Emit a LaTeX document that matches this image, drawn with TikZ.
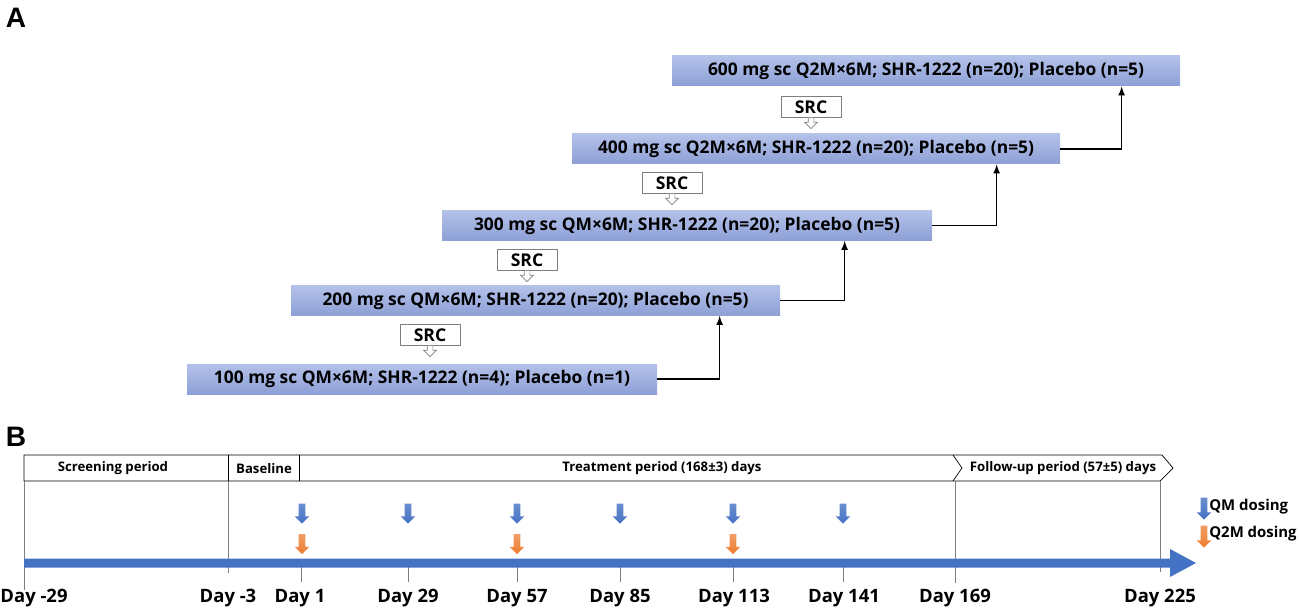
\documentclass[tikz,border=0pt]{standalone}
\usepackage{fontspec}
\setmainfont{Open Sans}
\newfontfamily\letterfont{Liberation Sans}
\usepackage{tikz}
\usetikzlibrary{positioning}
\usetikzlibrary{arrows,shapes}
\usetikzlibrary{shadings,shapes.arrows}
\usetikzlibrary{calc}
\definecolor{bartop}{HTML}{B4C2E9}
\definecolor{barbottom}{HTML}{8D9FD6}
\definecolor{axisblue}{HTML}{4472C4}
\definecolor{doseorange}{HTML}{ED7D31}
\definecolor{linegray}{HTML}{7F7F7F}
\def\u{0.02cm}
\tikzstyle{cohort}=[rectangle,top color=bartop,bottom color=barbottom,minimum height=30*\u,inner sep=0pt,font=\bfseries\fontsize{9.9}{11}\selectfont]
\tikzstyle{src}=[rectangle,draw=linegray,fill=white,minimum width=60*\u,minimum height=21*\u,inner sep=0pt,font=\bfseries\fontsize{10}{11}\selectfont]
\tikzstyle{srcptr}=[single arrow,draw=linegray,fill=white,rotate=-90,anchor=west,minimum height=11*\u,inner sep=2.5*\u,single arrow head extend=3.5*\u]
\tikzstyle{qm}=[single arrow,rotate=-90,draw=none,top color=axisblue!80,bottom color=axisblue,minimum height=20*\u,inner sep=3*\u,single arrow head extend=4*\u]
\tikzstyle{qtwom}=[single arrow,rotate=-90,draw=none,top color=doseorange!75,bottom color=doseorange,minimum height=20*\u,inner sep=3*\u,single arrow head extend=4*\u]
\tikzstyle{edge} = [draw,thick,-latex]
\tikzstyle{tick} = [draw=linegray,thin]
\tikzstyle{daylabel} = [font=\bfseries\fontsize{10.5}{12}\selectfont]
\tikzstyle{legend} = [font=\bfseries\fontsize{8.5}{10}\selectfont]
\tikzstyle{period} = [font=\bfseries\fontsize{7.5}{9}\selectfont]

\begin{document}
\begin{tikzpicture}[x=\u, y=-\u]
  \useasboundingbox (0,0) rectangle (1299,608);

  % panel letters
  \node[font=\letterfont\bfseries\fontsize{16}{18}\selectfont] (pA) at (16,18) {A};
  \node[font=\letterfont\bfseries\fontsize{16}{18}\selectfont] (pB) at (16,437) {B};

  % dose escalation cohorts
  \foreach \x/\y/\w/\name/\label in {422/379/470/b1/{100 mg sc QM×6M; SHR-1222 (n=4); Placebo (n=1)},
      535.5/300.5/489/b2/{200 mg sc QM×6M; SHR-1222 (n=20); Placebo (n=5)},
      687/225.5/490/b3/{300 mg sc QM×6M; SHR-1222 (n=20); Placebo (n=5)},
      816/149/488/b4/{400 mg sc Q2M×6M; SHR-1222 (n=20); Placebo (n=5)},
      926/71/508/b5/{600 mg sc Q2M×6M; SHR-1222 (n=20); Placebo (n=5)}}
         \node[cohort, minimum width=\w*\u] (\name) at (\x,\y) {\label};

  \foreach \source/ \dest /\off in {b1/b2/429, b2/b3/403, b3/b4/425, b4/b5/450}
         \path[edge] (\source.east) -| ($(\dest.south west)+(\off,0)$);

  % safety review
  \foreach \x/\y/\name in {430/335/s1, 527/260/s2, 672/183/s3, 811/107/s4}
     {
          \node[src] (\name) at (\x,\y) {SRC};
          \node[srcptr] (\name p) at ($(\name.south)+(0,-0.6)$) {};
     }

  % panel B: periods
  \draw (24,455) -- (1162,455) -- (1173,468) -- (1160,481) -- (24,481) -- cycle;
  \draw (228,455) -- (228,481);
  \draw (299,455) -- (299,481);
  \draw (953,455) -- (962,468) -- (953,481);
  \node[period] (scr) at (113,468) {Screening period};
  \node[period] (base) at (264,469) {Baseline};
  \node[period] (treat) at (662,468) {Treatment period (168±3) days};
  \node[period] (fup) at (1063,468) {Follow-up period (57±5) days};

  % time axis
  \foreach \x/\y in {24/590, 228/573, 955/583, 1160/572}
         \draw[tick] (\x,481) -- (\x,\y);
  \foreach \x in {301, 408, 517, 620, 733, 843}
         \draw[tick] (\x,566) -- (\x,582);
  \fill[axisblue] (24,558.5) -- (1170,558.5) -- (1170,549) -- (1196,563) -- (1170,577) -- (1170,567.5) -- (24,567.5) -- cycle;

  \foreach \x/\name/\label in {34/dm29/Day -29, 228/dm3/Day -3, 300/d1/Day 1, 408/d29/Day 29, 517/d57/Day 57,
      620/d85/Day 85, 734/d113/Day 113, 844/d141/Day 141, 955/d169/Day 169, 1160/d225/Day 225}
          \node[daylabel] (\name) at (\x,598) {\label};

  % dosing
  \foreach \x/\name in {302/q1, 408/q2, 517/q3, 620/q4, 733/q5, 843/q6}
          \node[qm] (\name) at (\x,512) {};
  \foreach \x/\name in {302/r1, 517/r2, 733/r3}
          \node[qtwom] (\name) at (\x,542.5) {};

  % legend
  \node[qm, minimum height=22*\u] (legqm) at (1204,507) {};
  \node[qtwom, minimum height=22*\u] (legq2m) at (1204,535) {};
  \node[legend, anchor=west, inner sep=0pt] (legqmtxt) at (1209,507) {QM dosing};
  \node[legend, anchor=west, inner sep=0pt] (legq2mtxt) at (1209,534) {Q2M dosing};

\end{tikzpicture}
\end{document}
